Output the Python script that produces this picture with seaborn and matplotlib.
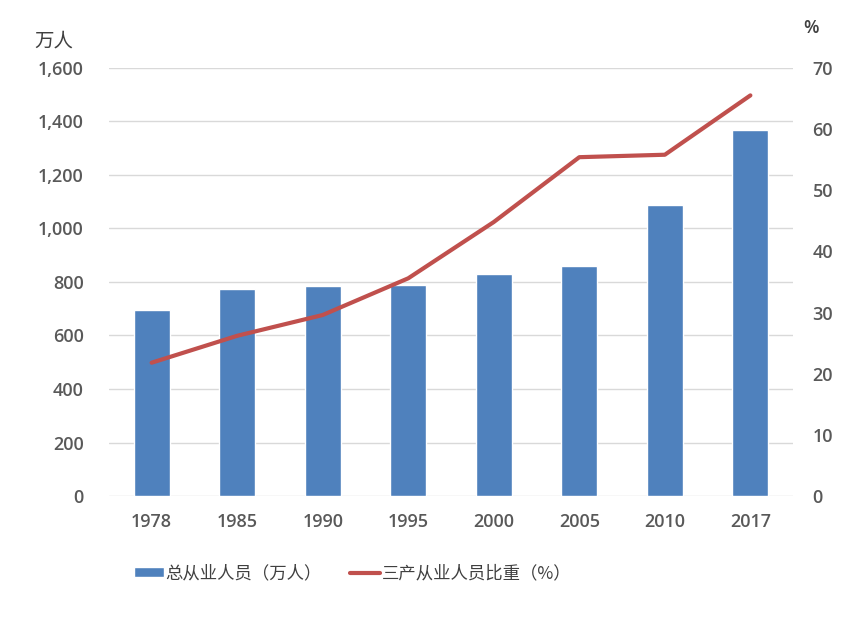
import pandas as pd
import matplotlib.pyplot as plt
import seaborn as sns
from matplotlib.ticker import FuncFormatter
from matplotlib.patches import Patch
from matplotlib.lines import Line2D

years = ['1978', '1985', '1990', '1995', '2000', '2005', '2010', '2017']
total_employed = [697, 772, 786, 790, 830, 861, 1088, 1368]   # 万人
tertiary_share = [21.8, 26.2, 29.6, 35.6, 44.8, 55.4, 55.8, 65.5]  # %

bar_label = '总从业人员（万人）'
line_label = '三产从业人员比重（%）'

df = pd.DataFrame({'year': years, 'total': total_employed, 'share': tertiary_share})

sns.set_style('white')
plt.rcParams['font.family'] = ['Open Sans', 'Noto Sans CJK SC', 'DejaVu Sans']
cjk = ['Noto Sans CJK SC', 'DejaVu Sans']
gray = '#595959'
bar_color = '#4F81BD'
line_color = '#C0504D'

fig = plt.figure(figsize=(8.64, 6.17), dpi=100)
ax = fig.add_axes([0.126, 0.196, 0.792, 0.694])

sns.barplot(data=df, x='year', y='total', color=bar_color, width=0.42,
            saturation=1, ax=ax)
ax.set_ylim(0, 1600)
ax.set_yticks(range(0, 1601, 200))
ax.yaxis.set_major_formatter(FuncFormatter(lambda v, p: f'{int(v):,}'))
ax.grid(axis='y', color='#d9d9d9', linewidth=1)
ax.set_axisbelow(True)
ax.set_xlabel('')
ax.set_ylabel('')

ax2 = ax.twinx()
sns.pointplot(data=df, x='year', y='share', color=line_color, markers='',
              linewidth=3, errorbar=None, ax=ax2)
ax2.set_ylim(0, 70)
ax2.set_yticks(range(0, 71, 10))
ax2.set_ylabel('')
ax2.set_xlabel('')
ax.set_xlim(-0.5, len(years) - 0.5)

for a in (ax, ax2):
    for s in a.spines.values():
        s.set_visible(False)
    a.tick_params(length=0, labelsize=13, labelcolor=gray)
    for t in a.get_xticklabels() + a.get_yticklabels():
        t.set_fontweight('semibold')
ax.tick_params(axis='y', pad=18)
ax.tick_params(axis='x', pad=12)
ax2.tick_params(axis='y', pad=14)

fig.text(0.04, 0.925, '万人', family=cjk, fontsize=14, color='#404040')
fig.text(0.93, 0.947, '%', fontsize=13, color='#404040', fontweight='semibold')

handles = [Patch(facecolor=bar_color, label=bar_label),
           Line2D([0], [0], color=line_color, linewidth=3, label=line_label)]
fig.legend(handles=handles, loc='center', bbox_to_anchor=(0.408, 0.071), ncol=2,
           frameon=False, prop={'family': cjk, 'size': 12.5}, labelcolor='#404040',
           handlelength=1.75, handleheight=0.55, handletextpad=0.1, columnspacing=1.6)

fig.savefig('out.png', dpi=100)
